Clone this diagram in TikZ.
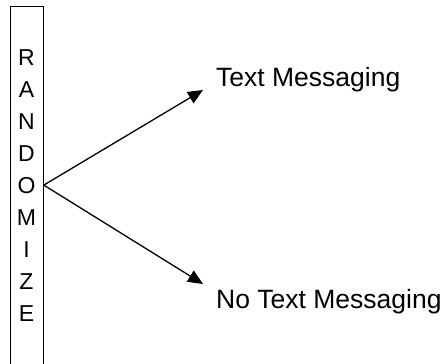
\documentclass[tikz,border=0pt]{standalone}
\usepackage{fontspec}
\setmainfont{Liberation Sans}
\usetikzlibrary{arrows.meta}

\begin{document}
\begin{tikzpicture}[x=1pt,y=-1pt,
    arm/.style={line width=1.3pt,-{Triangle[length=15pt,width=13pt]}},
    group/.style={font=\fontsize{26.5}{30}\selectfont,anchor=base west,inner sep=0pt}]
	    \useasboundingbox (0,0) rectangle (447,364);
	    \clip (0,0) rectangle (447,364);
	    % tall box on the left, runs off the bottom
	    \node[draw,line width=0.8pt,minimum width=33pt,minimum height=420pt,anchor=north west,inner sep=0pt] (box) at (10,6) {};
	    \node[align=center,anchor=north,inner sep=0pt,font=\fontsize{23}{32}\selectfont] (letters) at (26.5,49) {R\\A\\N\\D\\O\\M\\I\\Z\\E};
	    \coordinate (split) at (box.east |- letters.center);
	    % the two groups
	    \node[group] (texting) at (216,86) {Text Messaging};
	    \node[group] (notexting) at (216,308) {No Text Messaging};
	    \coordinate (tipup) at (203,90);
	    \coordinate (tipdown) at (203,284);
	    \draw[arm] (split) -- (tipup);
	    \draw[arm] (split) -- (tipdown);
	\end{tikzpicture}
\end{document}
